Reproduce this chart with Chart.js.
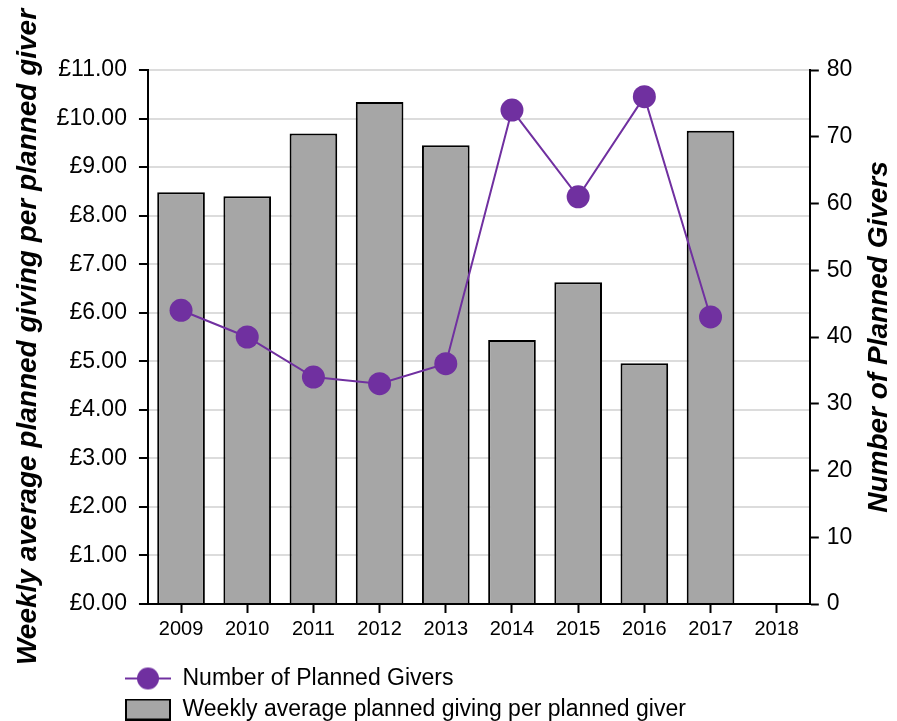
<!DOCTYPE html>
<html>
<head>
<meta charset="utf-8">
<script src="https://cdn.jsdelivr.net/npm/chart.js@4"></script>
<style>
  body { margin: 0; background: #fff; }
  #wrap { width: 897px; height: 721px; }
</style>
</head>
<body>
<div id="wrap"><canvas id="comboCanvas"></canvas></div>
<script>
var years = ["2009", "2010", "2011", "2012", "2013", "2014", "2015", "2016", "2017", "2018"];
var givingPerGiver = [8.48, 8.40, 9.69, 10.34, 9.45, 5.44, 6.63, 4.96, 9.75, null];
var plannedGivers = [44, 40, 34, 33, 36, 74, 61, 76, 43, null];
var poundTicks = ["£0.00", "£1.00", "£2.00", "£3.00", "£4.00", "£5.00", "£6.00", "£7.00", "£8.00", "£9.00", "£10.00", "£11.00"];

var purple = "#7030a0";
var barGrey = "#a6a6a6";
var fontFamily = "'Liberation Sans', Arial, sans-serif";

// little pictures for the legend markers
function lineMarker() {
  var c = document.createElement("canvas");
  c.width = 46; c.height = 24;
  var g = c.getContext("2d");
  g.strokeStyle = purple; g.lineWidth = 2;
  g.beginPath(); g.moveTo(0, 12); g.lineTo(46, 12); g.stroke();
  g.fillStyle = purple;
  g.beginPath(); g.arc(23, 12, 11, 0, Math.PI * 2); g.fill();
  return c;
}
function boxMarker() {
  var c = document.createElement("canvas");
  c.width = 46; c.height = 22;
  var g = c.getContext("2d");
  g.fillStyle = barGrey; g.fillRect(1, 1, 44, 20);
  g.strokeStyle = "#000"; g.lineWidth = 2; g.strokeRect(1, 1, 44, 20);
  return c;
}
var markers = [lineMarker(), boxMarker()];

// push the legend over to sit under the axis, as in the original
var legendShift = {
  id: "legendShift",
  afterLayout: function(chart) {
    var l = chart.legend;
    l.left += 117; l.right += 117;
    l.top += 14; l.bottom += 14;
  }
};

// right axis title reads bottom-to-top in the original, chart.js turns it the other way
var rightTitle = {
  id: "rightTitle",
  afterDraw: function(chart) {
    var s = chart.scales.y1;
    var ctx = chart.ctx;
    ctx.save();
    ctx.translate(s.right - 1 - 16.8, (s.top + s.bottom) / 2);
    ctx.rotate(-Math.PI / 2);
    ctx.font = "italic bold 28px " + fontFamily;
    ctx.fillStyle = "#000";
    ctx.textAlign = "center";
    ctx.textBaseline = "middle";
    ctx.fillText(s.options.title.text, 0, 0);
    ctx.restore();
  }
};

new Chart("comboCanvas", {
  type: "bar",
  data: {
    labels: years,
    datasets: [{
      type: "line",
      label: "Number of Planned Givers",
      data: plannedGivers,
      yAxisID: "y1",
      order: 0,
      borderColor: purple,
      borderWidth: 2,
      backgroundColor: purple,
      pointRadius: 11.5,
      pointBorderWidth: 0,
      pointBackgroundColor: purple
    }, {
      label: "Weekly average planned giving per planned giver",
      data: givingPerGiver,
      yAxisID: "y",
      order: 1,
      backgroundColor: barGrey,
      borderColor: "#000",
      borderWidth: 2,
      barPercentage: 0.72,
      categoryPercentage: 1
    }]
  },
  options: {
    responsive: true,
    maintainAspectRatio: false,
    animation: false,
    layout: {padding: {top: 70, bottom: 4, left: 0, right: 0}},
    plugins: {
      tooltip: {enabled: false},
      legend: {
        position: "bottom",
        align: "start",
        labels: {
          usePointStyle: true,
          pointStyleWidth: 46,
          padding: 8,
          color: "#000",
          font: {family: fontFamily, size: 23},
          generateLabels: function(chart) {
            var items = Chart.defaults.plugins.legend.labels.generateLabels(chart);
            items.forEach(function(it) { it.pointStyle = markers[it.datasetIndex]; });
            return items;
          }
        }
      }
    },
    scales: {
      x: {
        grid: {drawOnChartArea: false, offset: false, tickLength: 9, tickColor: "#000", tickWidth: 2},
        border: {color: "#000", width: 2},
        ticks: {color: "#000", padding: 4, font: {family: fontFamily, size: 20}}
      },
      y: {
        position: "left",
        min: 0,
        max: 11,
        grid: {color: "#dcdcdc", lineWidth: 2, tickLength: 9, tickColor: "#000", tickWidth: 2},
        border: {color: "#000", width: 2},
        ticks: {
          stepSize: 1,
          color: "#000",
          padding: 12,
          font: {family: fontFamily, size: 23},
          callback: function(v) { return poundTicks[Math.round(v)]; }
        },
        title: {
          display: true,
          text: "Weekly average planned giving per planned giver",
          color: "#000",
          padding: {top: 11, bottom: 0},
          font: {family: fontFamily, size: 28, style: "italic", weight: "bold"}
        }
      },
      y1: {
        position: "right",
        min: 0,
        max: 80,
        grid: {drawOnChartArea: false, tickLength: 9, tickColor: "#000", tickWidth: 2},
        border: {color: "#000", width: 2},
        ticks: {stepSize: 10, color: "#000", padding: 8, font: {family: fontFamily, size: 23}},
        title: {
          display: true,
          text: "Number of Planned Givers",
          color: "rgba(0,0,0,0)",
          padding: {top: 1, bottom: 2},
          font: {family: fontFamily, size: 28, style: "italic", weight: "bold"}
        }
      }
    }
  },
  plugins: [legendShift, rightTitle]
});
</script>
</body>
</html>
